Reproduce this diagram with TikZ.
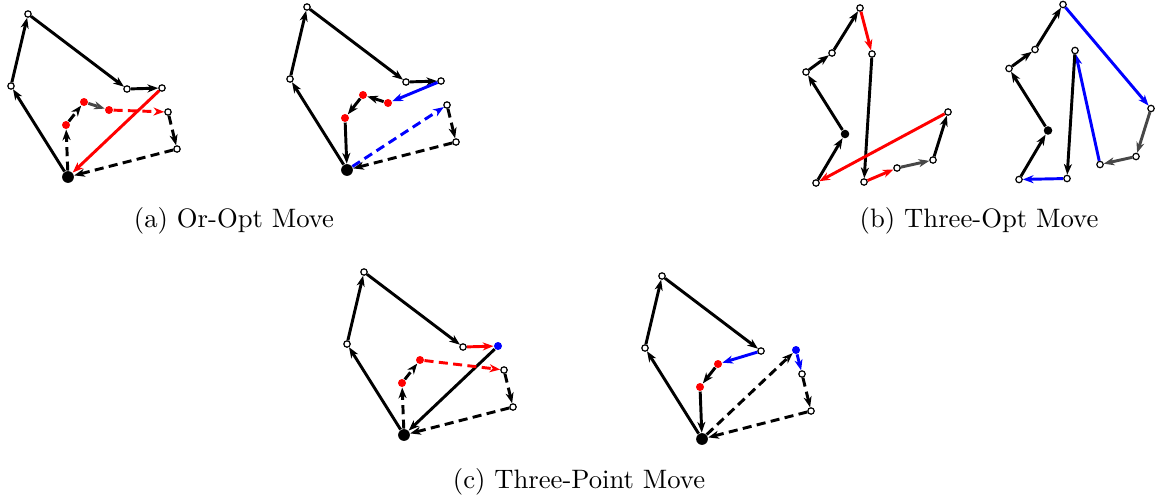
\documentclass[tikz,border=0pt]{standalone}
\usetikzlibrary{arrows.meta}
\begin{document}
\begin{tikzpicture}[x=0.375pt,y=-0.375pt,
  cn/.style={circle,draw,fill=white,inner sep=0pt,minimum size=2.4pt,line width=0.45pt},
  rn/.style={circle,fill=red,inner sep=0pt,minimum size=3pt},
  bn/.style={circle,fill=blue,inner sep=0pt,minimum size=3pt},
  dn/.style={circle,fill=black,inner sep=0pt,minimum size=4.4pt},
  dnb/.style={circle,fill=black,inner sep=0pt,minimum size=3.2pt},
  ed/.style={-{Stealth[length=4pt,width=3pt,inset=1.2pt]},line width=1.1pt},
  de/.style={ed,dash pattern=on 3.4pt off 2pt},
  gr/.style={black!72},
  captext/.style={anchor=base,font=\normalsize}]
\useasboundingbox (0,0) rectangle (1157,500);

% ---------- (a) left ----------
\begin{scope}
\node[dn] (aD) at (68,177) {};
\node[cn] (aA1) at (11,86) {};
\node[cn] (aA2) at (28,14) {};
\node[cn] (aA3) at (127,89) {};
\node[cn] (aA4) at (162,88) {};
\node[rn] (aR1) at (66,125) {};
\node[rn] (aR2) at (84,102) {};
\node[rn] (aR3) at (109,110) {};
\node[cn] (aB1) at (168,112) {};
\node[cn] (aB2) at (177,149) {};
\draw[ed] (aD) -- (aA1);
\draw[ed] (aA1) -- (aA2);
\draw[ed] (aA2) -- (aA3);
\draw[ed] (aA3) -- (aA4);
\draw[ed,red] (aA4) -- (aD);
\draw[de] (aD) -- (aR1);
\draw[de] (aR1) -- (aR2);
\draw[de,gr] (aR2) -- (aR3);
\draw[de,red] (aR3) -- (aB1);
\draw[de] (aB1) -- (aB2);
\draw[de] (aB2) -- (aD);
\end{scope}

% ---------- (a) right ----------
\begin{scope}[shift={(279,-7)}]
\node[dn] (bD) at (68,177) {};
\node[cn] (bA1) at (11,86) {};
\node[cn] (bA2) at (28,14) {};
\node[cn] (bA3) at (127,89) {};
\node[cn] (bA4) at (162,88) {};
\node[rn] (bR1) at (66,125) {};
\node[rn] (bR2) at (84,102) {};
\node[rn] (bR3) at (109,110) {};
\node[cn] (bB1) at (168,112) {};
\node[cn] (bB2) at (177,149) {};
\draw[ed] (bD) -- (bA1);
\draw[ed] (bA1) -- (bA2);
\draw[ed] (bA2) -- (bA3);
\draw[ed] (bA3) -- (bA4);
\draw[ed,blue] (bA4) -- (bR3);
\draw[ed] (bR3) -- (bR2);
\draw[ed] (bR2) -- (bR1);
\draw[ed] (bR1) -- (bD);
\draw[de,blue] (bD) -- (bB1);
\draw[de] (bB1) -- (bB2);
\draw[de] (bB2) -- (bD);
\end{scope}

% ---------- (b) left ----------
\begin{scope}
\node[dnb] (cD) at (845,134) {};
\node[cn] (cP1) at (816,183) {};
\node[cn] (cN1) at (806,72) {};
\node[cn] (cN2) at (832,53) {};
\node[cn] (cN3) at (860,8) {};
\node[cn] (cN4) at (872,54) {};
\node[cn] (cN5) at (864,182) {};
\node[cn] (cN6) at (897,168) {};
\node[cn] (cN7) at (933,160) {};
\node[cn] (cN8) at (948,112) {};
\draw[ed] (cP1) -- (cD);
\draw[ed] (cD) -- (cN1);
\draw[ed] (cN1) -- (cN2);
\draw[ed] (cN2) -- (cN3);
\draw[ed,red] (cN3) -- (cN4);
\draw[ed] (cN4) -- (cN5);
\draw[ed,red] (cN5) -- (cN6);
\draw[ed,gr] (cN6) -- (cN7);
\draw[ed] (cN7) -- (cN8);
\draw[ed,red] (cN8) -- (cP1);
\end{scope}

% ---------- (b) right ----------
\begin{scope}[shift={(203,-3.5)}]
\node[dnb] (dD) at (845,134) {};
\node[cn] (dP1) at (816,183) {};
\node[cn] (dN1) at (806,72) {};
\node[cn] (dN2) at (832,53) {};
\node[cn] (dN3) at (860,8) {};
\node[cn] (dN4) at (872,54) {};
\node[cn] (dN5) at (864,182) {};
\node[cn] (dN6) at (897,168) {};
\node[cn] (dN7) at (933,160) {};
\node[cn] (dN8) at (948,112) {};
\draw[ed] (dP1) -- (dD);
\draw[ed] (dD) -- (dN1);
\draw[ed] (dN1) -- (dN2);
\draw[ed] (dN2) -- (dN3);
\draw[ed,blue] (dN3) -- (dN8);
\draw[ed,gr] (dN8) -- (dN7);
\draw[ed,gr] (dN7) -- (dN6);
\draw[ed,blue] (dN6) -- (dN4);
\draw[ed] (dN4) -- (dN5);
\draw[ed,blue] (dN5) -- (dP1);
\end{scope}

% ---------- (c) left ----------
\begin{scope}[shift={(336,258)}]
\node[dn] (eD) at (68,177) {};
\node[cn] (eA1) at (11,86) {};
\node[cn] (eA2) at (28,14) {};
\node[cn] (eA3) at (127,89) {};
\node[bn] (eA4) at (162,88) {};
\node[rn] (eR1) at (66,125) {};
\node[rn] (eR2) at (84,102) {};
\node[cn] (eB1) at (168,112) {};
\node[cn] (eB2) at (177,149) {};
\draw[ed] (eD) -- (eA1);
\draw[ed] (eA1) -- (eA2);
\draw[ed] (eA2) -- (eA3);
\draw[ed,red] (eA3) -- (eA4);
\draw[ed] (eA4) -- (eD);
\draw[de] (eD) -- (eR1);
\draw[de] (eR1) -- (eR2);
\draw[de,red] (eR2) -- (eB1);
\draw[de] (eB1) -- (eB2);
\draw[de] (eB2) -- (eD);
\end{scope}

% ---------- (c) right ----------
\begin{scope}[shift={(634,262)}]
\node[dn] (fD) at (68,177) {};
\node[cn] (fA1) at (11,86) {};
\node[cn] (fA2) at (28,14) {};
\node[cn] (fA3) at (127,89) {};
\node[bn] (fA4) at (162,88) {};
\node[rn] (fR1) at (66,125) {};
\node[rn] (fR2) at (84,102) {};
\node[cn] (fB1) at (168,112) {};
\node[cn] (fB2) at (177,149) {};
\draw[ed] (fD) -- (fA1);
\draw[ed] (fA1) -- (fA2);
\draw[ed] (fA2) -- (fA3);
\draw[ed,blue] (fA3) -- (fR2);
\draw[ed] (fR2) -- (fR1);
\draw[ed] (fR1) -- (fD);
\draw[de] (fD) -- (fA4);
\draw[de,blue] (fA4) -- (fB1);
\draw[de] (fB1) -- (fB2);
\draw[de] (fB2) -- (fD);
\end{scope}

% ---------- captions ----------
\node[captext] (capa) at (234,227) {(a) Or-Opt Move};
\node[captext] (capb) at (979,227) {(b) Three-Opt Move};
\node[captext] (capc) at (579,488) {(c) Three-Point Move};
\end{tikzpicture}
\end{document}
